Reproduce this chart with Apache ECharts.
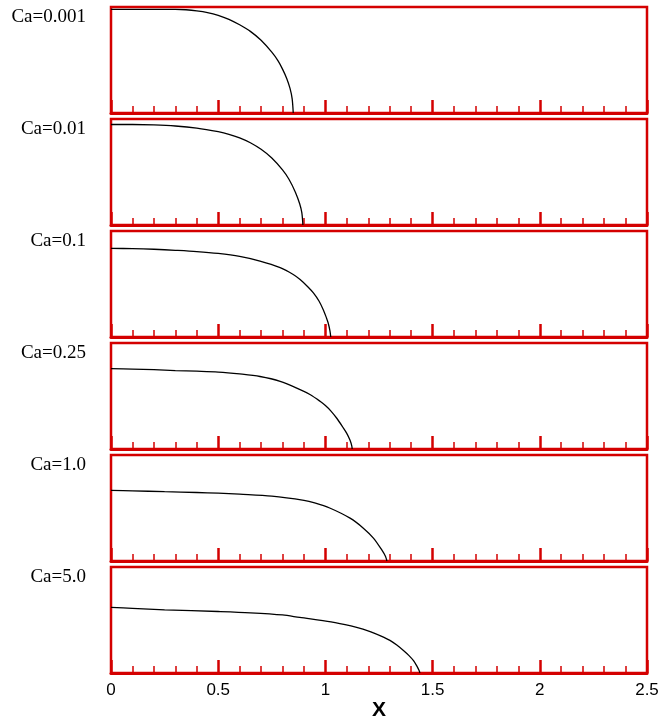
<!DOCTYPE html>
<html>
<head>
<meta charset="utf-8">
<script src="https://cdn.jsdelivr.net/npm/echarts@6/dist/echarts.min.js"></script>
<style>
  html, body { margin: 0; padding: 0; background: #fff; }
  #chart { width: 660px; height: 717px; }
</style>
</head>
<body>
<div id="chart"></div>
<script>
// Drop interface profiles for increasing capillary number
const caLabels = ['Ca=0.001', 'Ca=0.01', 'Ca=0.1', 'Ca=0.25', 'Ca=1.0', 'Ca=5.0'];
const xTicks = [0, 0.5, 1, 1.5, 2, 2.5];

const x1 = [0, 0.1, 0.2, 0.3, 0.35, 0.4, 0.45, 0.5, 0.55, 0.6, 0.65, 0.7, 0.75, 0.78, 0.8, 0.82, 0.835, 0.845, 0.85];
const y1 = [0.489, 0.489, 0.489, 0.489, 0.487, 0.482, 0.474, 0.461, 0.442, 0.416, 0.385, 0.343, 0.287, 0.245, 0.207, 0.162, 0.116, 0.067, 0];

const x2 = [0, 0.1, 0.2, 0.3, 0.4, 0.5, 0.55, 0.6, 0.65, 0.7, 0.75, 0.8, 0.83, 0.86, 0.88, 0.89, 0.895];
const y2 = [0.474, 0.474, 0.472, 0.467, 0.457, 0.44, 0.428, 0.411, 0.388, 0.357, 0.316, 0.26, 0.216, 0.155, 0.1, 0.058, 0];

const x3 = [0, 0.1, 0.2, 0.3, 0.4, 0.5, 0.6, 0.695, 0.789, 0.85, 0.882, 0.92, 0.944, 0.97, 0.99, 1.005, 1.013, 1.021, 1.025];
const y3 = [0.418, 0.417, 0.414, 0.409, 0.403, 0.394, 0.38, 0.358, 0.327, 0.295, 0.271, 0.235, 0.208, 0.17, 0.129, 0.09, 0.066, 0.03, 0];

const x4 = [0, 0.1, 0.2, 0.3, 0.4, 0.5, 0.6, 0.695, 0.789, 0.882, 0.93, 0.975, 1.0, 1.025, 1.053, 1.08, 1.099, 1.115, 1.123, 1.125];
const y4 = [0.379, 0.377, 0.374, 0.37, 0.367, 0.363, 0.354, 0.342, 0.319, 0.28, 0.256, 0.225, 0.205, 0.18, 0.145, 0.105, 0.075, 0.041, 0.015, 0];

const x5 = [0, 0.1, 0.25, 0.4, 0.5, 0.6, 0.75, 0.9, 0.95, 1.02, 1.115, 1.177, 1.224, 1.263, 1.28, 1.287];
const y5 = [0.333, 0.331, 0.327, 0.323, 0.32, 0.315, 0.306, 0.286, 0.274, 0.25, 0.202, 0.155, 0.108, 0.052, 0.022, 0];

const x6 = [0, 0.1, 0.25, 0.5, 0.65, 0.8, 0.88, 1.026, 1.119, 1.175, 1.212, 1.26, 1.301, 1.333, 1.364, 1.39, 1.411, 1.428, 1.437, 1.441];
const y6 = [0.31, 0.305, 0.298, 0.29, 0.284, 0.274, 0.262, 0.241, 0.222, 0.207, 0.194, 0.174, 0.154, 0.132, 0.106, 0.082, 0.058, 0.03, 0.012, 0];

const profilesX = [x1, x2, x3, x4, x5, x6];
const profilesY = [y1, y2, y3, y4, y5, y6];

const RED = '#d40000';
const panelLeft = 111, panelWidth = 536, panelTop0 = 7, panelStep = 112, panelHeight = 106;

const grids = [], xAxes = [], yAxes = [], series = [], titles = [];
caLabels.forEach((label, i) => {
  const top = panelTop0 + panelStep * i;
  const last = i === caLabels.length - 1;
  grids.push({
    left: panelLeft, top: top, width: panelWidth, height: panelHeight,
    outerBoundsMode: 'none', containLabel: false,
    show: true, borderColor: RED, borderWidth: 2.5, backgroundColor: 'transparent'
  });
  xAxes.push({
    type: 'value', gridIndex: i, min: xTicks[0], max: xTicks[xTicks.length - 1], interval: 0.5,
    axisLine: { show: true, lineStyle: { color: RED, width: 3 } },
    axisTick: { show: true, inside: true, length: 13, lineStyle: { color: RED, width: 2.5 } },
    minorTick: { show: true, splitNumber: 5, length: 7, lineStyle: { color: RED, width: 1.5 } },
    splitLine: { show: false },
    axisLabel: {
      show: last, margin: 9, color: '#000', fontFamily: 'Liberation Sans', fontSize: 17,
      formatter: v => String(v)
    },
    name: last ? 'X' : '',
    nameLocation: 'middle', nameGap: 25,
    nameTextStyle: { color: '#000', fontFamily: 'Liberation Sans', fontWeight: 'bold', fontSize: 21 }
  });
  yAxes.push({
    type: 'value', gridIndex: i, min: 0, max: 0.5,
    axisLine: { show: false }, axisTick: { show: false },
    axisLabel: { show: false }, splitLine: { show: false }
  });
  series.push({
    type: 'line', xAxisIndex: i, yAxisIndex: i,
    data: profilesX[i].map((x, k) => [x, profilesY[i][k]]),
    showSymbol: false, smooth: 0.3, z: 1,
    lineStyle: { color: '#000', width: 1.3 }
  });
  titles.push({
    text: label, right: 574, top: top + 1, padding: 0,
    textStyle: { color: '#000', fontFamily: 'Liberation Serif', fontWeight: 'normal', fontSize: 19 }
  });
});

const chart = echarts.init(document.getElementById('chart'), null, { renderer: 'canvas' });
chart.setOption({
  animation: false,
  backgroundColor: '#fff',
  title: titles,
  grid: grids,
  xAxis: xAxes,
  yAxis: yAxes,
  series: series
});
</script>
</body>
</html>
